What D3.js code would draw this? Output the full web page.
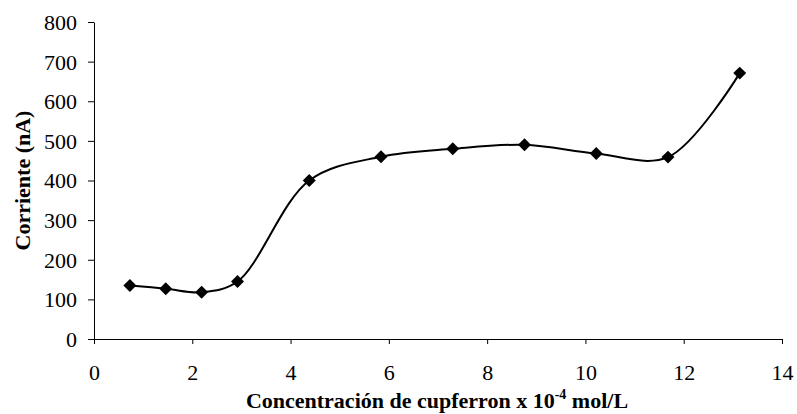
<!DOCTYPE html>
<html><head><meta charset="utf-8">
<script src="https://cdn.jsdelivr.net/npm/d3@7"></script>
<style>body{margin:0;background:#fff}svg{display:block}svg text{font-family:"Liberation Serif","Times New Roman","DejaVu Serif",serif}</style>
</head><body>
<svg id="c" width="797" height="414"></svg>
<script>
const xValues = [0.73, 1.46, 2.19, 2.92, 4.38, 5.84, 7.30, 8.76, 10.22, 11.68, 13.14];
const yValues = [135, 127, 118, 145, 400, 460, 480, 490, 468, 459, 671];
const xTicks = [0, 2, 4, 6, 8, 10, 12, 14];
const yTicks = [0, 100, 200, 300, 400, 500, 600, 700, 800];

(function () {
const svg = d3.select("#c");
const mL = 94, mR = 782, mT = 22, mB = 339;
const x = d3.scaleLinear().domain([0, 14]).range([mL, mR]);
const y = d3.scaleLinear().domain([0, 800]).range([mB, mT]);
const font = "Liberation Serif, Times New Roman, serif";

const gx = svg.append("g").attr("transform", `translate(0,${mB})`)
  .call(d3.axisBottom(x).tickValues(xTicks).tickSize(5).tickSizeOuter(0));
const gy = svg.append("g").attr("transform", `translate(${mL},0)`)
  .call(d3.axisLeft(y).tickValues(yTicks).tickSize(6).tickPadding(11).tickSizeOuter(0));
[gx, gy].forEach(g => {
  g.attr("font-family", null).attr("font-size", null);
  g.selectAll("path,line").attr("stroke", "#000").attr("stroke-width", 1);
  g.selectAll("text").style("font-family", font).style("font-size", "22px").attr("fill", "#000");
});
gx.selectAll("text").attr("y", 41).attr("dy", 0);
gy.selectAll("text").attr("dy", "0.34em");

const data = xValues.map((v, i) => [v, yValues[i]]);
svg.append("path").datum(data)
  .attr("d", d3.line().x(d => x(d[0])).y(d => y(d[1])).curve(d3.curveCatmullRom.alpha(0.5)))
  .attr("fill", "none").attr("stroke", "#000").attr("stroke-width", 2);

svg.append("g").selectAll("path").data(data).join("path")
  .attr("d", d3.symbol(d3.symbolSquare, 84)())
  .attr("transform", d => `translate(${x(d[0])},${y(d[1])}) rotate(45)`)
  .attr("fill", "#000");

const xl = svg.append("text").attr("x", (mL + mR) / 2 - 1).attr("y", 408)
  .attr("text-anchor", "middle").style("font-family", font).style("font-size", "22px")
  .attr("font-weight", "bold").attr("fill", "#000");
xl.append("tspan").text("Concentración de cupferron x 10");
xl.append("tspan").attr("dy", -9).style("font-size", "14px").text("-4");
xl.append("tspan").attr("dy", 9).text(" mol/L");

svg.append("text").attr("transform", `translate(30,${(mT + mB) / 2}) rotate(-90)`)
  .attr("text-anchor", "middle").style("font-family", font).style("font-size", "22px")
  .attr("font-weight", "bold").attr("fill", "#000").text("Corriente (nA)");
})();
</script>
</body></html>
